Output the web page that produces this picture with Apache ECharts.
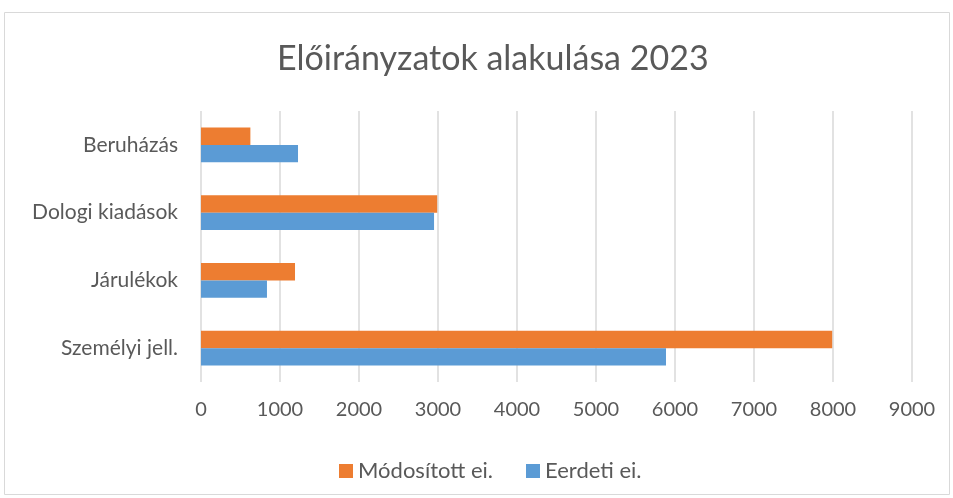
<!DOCTYPE html>
<html>
<head>
<meta charset="utf-8">
<script src="https://cdn.jsdelivr.net/npm/echarts@6/dist/echarts.min.js"></script>
<style>
  html, body { margin: 0; padding: 0; background: #fff; }
  #chart { width: 953px; height: 498px; }
</style>
</head>
<body>
<div id="chart"></div>
<script>
// adatok
const categories = ["Személyi jell.", "Járulékok", "Dologi kiadások", "Beruházás"];
const eredeti = [5886, 835, 2950, 1228];     // Eerdeti ei.
const modositott = [7990, 1190, 2990, 625];  // Módosított ei.
const xTicks = [0, 1000, 2000, 3000, 4000, 5000, 6000, 7000, 8000, 9000];

const textColor = "#595959";
const font = "Lato, 'Open Sans', sans-serif";

const chart = echarts.init(document.getElementById("chart"));
chart.setOption({
  animation: false,
  graphic: [{
    type: "rect",
    shape: { x: 4.5, y: 12.5, width: 945, height: 482 },
    style: { fill: "none", stroke: "#d9d9d9", lineWidth: 1 }
  }],
  title: {
    text: "Előirányzatok alakulása 2023",
    left: 272,
    top: 37,
    textStyle: { color: textColor, fontSize: 34, fontWeight: "normal", fontFamily: font }
  },
  legend: {
    data: ["Módosított ei.", "Eerdeti ei."],
    top: 455,
    left: 334,
    itemWidth: 14,
    itemHeight: 14,
    itemGap: 33,
    icon: "rect",
    textStyle: { color: textColor, fontSize: 22, fontFamily: font }
  },
  grid: { left: 201, right: 41, top: 111, bottom: 116, containLabel: false },
  xAxis: {
    type: "value",
    min: xTicks[0],
    max: xTicks[xTicks.length - 1],
    interval: 1000,
    axisLine: { show: false },
    axisTick: { show: false },
    splitLine: { lineStyle: { color: "#d9d9d9", width: 1.5 } },
    axisLabel: {
      color: textColor, fontSize: 20, fontFamily: font, margin: 18,
      formatter: v => String(v)
    }
  },
  yAxis: {
    type: "category",
    data: categories,
    axisLine: { show: false },
    axisTick: { show: false },
    axisLabel: { color: textColor, fontSize: 21, fontFamily: font, margin: 23 }
  },
  series: [
    {
      name: "Módosított ei.",
      type: "bar",
      data: modositott,
      barGap: "0%",
      barCategoryGap: "49%",
      itemStyle: { color: "#ED7D31" }
    },
    {
      name: "Eerdeti ei.",
      type: "bar",
      data: eredeti,
      itemStyle: { color: "#5B9BD5" }
    }
  ]
});
</script>
</body>
</html>
